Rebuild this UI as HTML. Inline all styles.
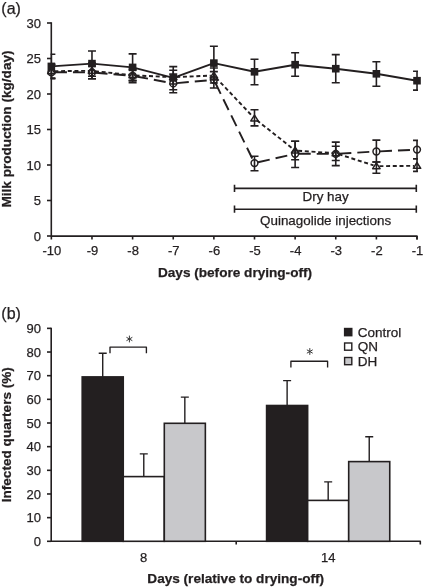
<!DOCTYPE html>
<html><head><meta charset="utf-8">
<style>
html,body{margin:0;padding:0;background:#fff;}
body{width:423px;height:587px;overflow:hidden;}
svg{display:block;will-change:transform;}
text{font-family:"Liberation Sans",sans-serif;fill:#231f20;stroke:#231f20;stroke-width:0.25px;}
</style></head><body>
<svg width="423" height="587" viewBox="0 0 423 587">
<rect width="423" height="587" fill="#fff"/>
<text x="1.3" y="14.0" font-size="16">(a)</text>
<path d="M51.3 22.2 V236.1 H417 V239.5" fill="none" stroke="#231f20" stroke-width="1.6" stroke-linejoin="round"/>
<line x1="47" y1="236.00" x2="51.3" y2="236.00" stroke="#231f20" stroke-width="1.6"/>
<text x="41" y="240.60" font-size="13" text-anchor="end">0</text>
<line x1="47" y1="200.50" x2="51.3" y2="200.50" stroke="#231f20" stroke-width="1.6"/>
<text x="41" y="205.10" font-size="13" text-anchor="end">5</text>
<line x1="47" y1="165.00" x2="51.3" y2="165.00" stroke="#231f20" stroke-width="1.6"/>
<text x="41" y="169.60" font-size="13" text-anchor="end">10</text>
<line x1="47" y1="129.50" x2="51.3" y2="129.50" stroke="#231f20" stroke-width="1.6"/>
<text x="41" y="134.10" font-size="13" text-anchor="end">15</text>
<line x1="47" y1="94.00" x2="51.3" y2="94.00" stroke="#231f20" stroke-width="1.6"/>
<text x="41" y="98.60" font-size="13" text-anchor="end">20</text>
<line x1="47" y1="58.50" x2="51.3" y2="58.50" stroke="#231f20" stroke-width="1.6"/>
<text x="41" y="63.10" font-size="13" text-anchor="end">25</text>
<line x1="47" y1="23.00" x2="51.3" y2="23.00" stroke="#231f20" stroke-width="1.6"/>
<text x="41" y="27.60" font-size="13" text-anchor="end">30</text>
<line x1="51.35" y1="236" x2="51.35" y2="239.5" stroke="#231f20" stroke-width="1.6"/>
<text x="51.85" y="255.3" font-size="13" text-anchor="middle">-10</text>
<line x1="91.98" y1="236" x2="91.98" y2="239.5" stroke="#231f20" stroke-width="1.6"/>
<text x="92.48" y="255.3" font-size="13" text-anchor="middle">-9</text>
<line x1="132.61" y1="236" x2="132.61" y2="239.5" stroke="#231f20" stroke-width="1.6"/>
<text x="133.11" y="255.3" font-size="13" text-anchor="middle">-8</text>
<line x1="173.24" y1="236" x2="173.24" y2="239.5" stroke="#231f20" stroke-width="1.6"/>
<text x="173.74" y="255.3" font-size="13" text-anchor="middle">-7</text>
<line x1="213.87" y1="236" x2="213.87" y2="239.5" stroke="#231f20" stroke-width="1.6"/>
<text x="214.37" y="255.3" font-size="13" text-anchor="middle">-6</text>
<line x1="254.50" y1="236" x2="254.50" y2="239.5" stroke="#231f20" stroke-width="1.6"/>
<text x="255.00" y="255.3" font-size="13" text-anchor="middle">-5</text>
<line x1="295.13" y1="236" x2="295.13" y2="239.5" stroke="#231f20" stroke-width="1.6"/>
<text x="295.63" y="255.3" font-size="13" text-anchor="middle">-4</text>
<line x1="335.76" y1="236" x2="335.76" y2="239.5" stroke="#231f20" stroke-width="1.6"/>
<text x="336.26" y="255.3" font-size="13" text-anchor="middle">-3</text>
<line x1="376.39" y1="236" x2="376.39" y2="239.5" stroke="#231f20" stroke-width="1.6"/>
<text x="376.89" y="255.3" font-size="13" text-anchor="middle">-2</text>
<line x1="417.02" y1="236" x2="417.02" y2="239.5" stroke="#231f20" stroke-width="1.6"/>
<text x="417.52" y="255.3" font-size="13" text-anchor="middle">-1</text>
<text x="235" y="277.2" font-size="13.6" font-weight="bold" text-anchor="middle">Days (before drying-off)</text>
<text transform="translate(11.1 129) rotate(-90)" font-size="13.6" font-weight="bold" text-anchor="middle">Milk production (kg/day)</text>
<path d="M234.5 184.8 V192.0 M234.5 188.4 H416.3 M416.3 184.8 V192.0" fill="none" stroke="#231f20" stroke-width="1.6"/>
<text x="325.6" y="201.3" font-size="13.4" text-anchor="middle">Dry hay</text>
<path d="M234.5 205.6 V212.79999999999998 M234.5 209.2 H416.3 M416.3 205.6 V212.79999999999998" fill="none" stroke="#231f20" stroke-width="1.6"/>
<text x="325.6" y="224.5" font-size="13.4" text-anchor="middle">Quinagolide injections</text>
<clipPath id="pc"><rect x="50.6" y="0" width="367.4" height="300"/></clipPath>
<g clip-path="url(#pc)">
<path d="M51.35 54.3 V78.5 M47.35 54.3 H55.35 M47.35 78.5 H55.35" fill="none" stroke="#231f20" stroke-width="1.6"/>
<path d="M51.35 64 V78.4 M47.35 64 H55.35 M47.35 78.4 H55.35" fill="none" stroke="#231f20" stroke-width="1.6"/>
<path d="M51.35 64.8 V78.4 M47.35 64.8 H55.35 M47.35 78.4 H55.35" fill="none" stroke="#231f20" stroke-width="1.6"/>
<path d="M91.98 51 V76.2 M87.98 51 H95.98 M87.98 76.2 H95.98" fill="none" stroke="#231f20" stroke-width="1.6"/>
<path d="M91.98 63 V78.8 M87.98 63 H95.98 M87.98 78.8 H95.98" fill="none" stroke="#231f20" stroke-width="1.6"/>
<path d="M91.98 66 V78.8 M87.98 66 H95.98 M87.98 78.8 H95.98" fill="none" stroke="#231f20" stroke-width="1.6"/>
<path d="M132.61 53.9 V80.9 M128.61 53.9 H136.61 M128.61 80.9 H136.61" fill="none" stroke="#231f20" stroke-width="1.6"/>
<path d="M132.61 70 V80.3 M128.61 70 H136.61 M128.61 80.3 H136.61" fill="none" stroke="#231f20" stroke-width="1.6"/>
<path d="M132.61 69 V82.6 M128.61 69 H136.61 M128.61 82.6 H136.61" fill="none" stroke="#231f20" stroke-width="1.6"/>
<path d="M173.24 66.6 V89.8 M169.24 66.6 H177.24 M169.24 89.8 H177.24" fill="none" stroke="#231f20" stroke-width="1.6"/>
<path d="M173.24 70.3 V84 M169.24 70.3 H177.24 M169.24 84 H177.24" fill="none" stroke="#231f20" stroke-width="1.6"/>
<path d="M173.24 74 V92.7 M169.24 74 H177.24 M169.24 92.7 H177.24" fill="none" stroke="#231f20" stroke-width="1.6"/>
<path d="M213.87 46.3 V79.9 M209.87 46.3 H217.87 M209.87 79.9 H217.87" fill="none" stroke="#231f20" stroke-width="1.6"/>
<path d="M213.87 68 V83 M209.87 68 H217.87 M209.87 83 H217.87" fill="none" stroke="#231f20" stroke-width="1.6"/>
<path d="M213.87 71.6 V88 M209.87 71.6 H217.87 M209.87 88 H217.87" fill="none" stroke="#231f20" stroke-width="1.6"/>
<path d="M254.50 59.2 V84.75 M250.50 59.2 H258.50 M250.50 84.75 H258.50" fill="none" stroke="#231f20" stroke-width="1.6"/>
<path d="M254.50 109.8 V125.9 M250.50 109.8 H258.50 M250.50 125.9 H258.50" fill="none" stroke="#231f20" stroke-width="1.6"/>
<path d="M254.50 156.2 V170.7 M250.50 156.2 H258.50 M250.50 170.7 H258.50" fill="none" stroke="#231f20" stroke-width="1.6"/>
<path d="M295.13 52.7 V76.2 M291.13 52.7 H299.13 M291.13 76.2 H299.13" fill="none" stroke="#231f20" stroke-width="1.6"/>
<path d="M295.13 141.2 V159.8 M291.13 141.2 H299.13 M291.13 159.8 H299.13" fill="none" stroke="#231f20" stroke-width="1.6"/>
<path d="M295.13 141.2 V167.5 M291.13 141.2 H299.13 M291.13 167.5 H299.13" fill="none" stroke="#231f20" stroke-width="1.6"/>
<path d="M335.76 54.6 V82.8 M331.76 54.6 H339.76 M331.76 82.8 H339.76" fill="none" stroke="#231f20" stroke-width="1.6"/>
<path d="M335.76 146.2 V160.5 M331.76 146.2 H339.76 M331.76 160.5 H339.76" fill="none" stroke="#231f20" stroke-width="1.6"/>
<path d="M335.76 142.1 V165.6 M331.76 142.1 H339.76 M331.76 165.6 H339.76" fill="none" stroke="#231f20" stroke-width="1.6"/>
<path d="M376.39 61.7 V86.2 M372.39 61.7 H380.39 M372.39 86.2 H380.39" fill="none" stroke="#231f20" stroke-width="1.6"/>
<path d="M376.39 162 V173.3 M372.39 162 H380.39 M372.39 173.3 H380.39" fill="none" stroke="#231f20" stroke-width="1.6"/>
<path d="M376.39 140.1 V162 M372.39 140.1 H380.39 M372.39 162 H380.39" fill="none" stroke="#231f20" stroke-width="1.6"/>
<path d="M417.02 71.3 V90.1 M413.02 71.3 H421.02 M413.02 90.1 H421.02" fill="none" stroke="#231f20" stroke-width="1.6"/>
<path d="M417.02 158.8 V171.4 M413.02 158.8 H421.02 M413.02 171.4 H421.02" fill="none" stroke="#231f20" stroke-width="1.6"/>
<path d="M417.02 140.4 V158.8 M413.02 140.4 H421.02 M413.02 158.8 H421.02" fill="none" stroke="#231f20" stroke-width="1.6"/>
</g>
<line x1="54.95" y1="72.22" x2="88.38" y2="72.38" stroke="#231f20" stroke-width="1.9" stroke-dasharray="12 6"/>
<line x1="95.57" y1="72.70" x2="129.02" y2="75.50" stroke="#231f20" stroke-width="1.9" stroke-dasharray="12 6"/>
<line x1="136.15" y1="76.46" x2="169.70" y2="82.74" stroke="#231f20" stroke-width="1.9" stroke-dasharray="12 6"/>
<line x1="176.83" y1="83.08" x2="210.28" y2="80.12" stroke="#231f20" stroke-width="1.9" stroke-dasharray="12 6"/>
<line x1="215.45" y1="83.04" x2="252.92" y2="159.86" stroke="#231f20" stroke-width="1.9" stroke-dasharray="12 6"/>
<line x1="258.01" y1="162.30" x2="291.62" y2="154.60" stroke="#231f20" stroke-width="1.9" stroke-dasharray="12 6"/>
<line x1="298.73" y1="153.80" x2="332.16" y2="153.85" stroke="#231f20" stroke-width="1.9" stroke-dasharray="12 6"/>
<line x1="339.35" y1="153.64" x2="372.80" y2="151.71" stroke="#231f20" stroke-width="1.9" stroke-dasharray="12 6"/>
<line x1="379.99" y1="151.33" x2="413.42" y2="149.77" stroke="#231f20" stroke-width="1.9" stroke-dasharray="12 6"/>
<line x1="54.35" y1="71.17" x2="88.98" y2="70.83" stroke="#231f20" stroke-width="1.9" stroke-dasharray="4 2.7"/>
<line x1="94.96" y1="71.13" x2="129.63" y2="74.97" stroke="#231f20" stroke-width="1.9" stroke-dasharray="4 2.7"/>
<line x1="135.61" y1="75.44" x2="170.24" y2="77.06" stroke="#231f20" stroke-width="1.9" stroke-dasharray="4 2.7"/>
<line x1="176.24" y1="77.07" x2="210.87" y2="75.63" stroke="#231f20" stroke-width="1.9" stroke-dasharray="4 2.7"/>
<line x1="215.93" y1="77.68" x2="252.44" y2="116.22" stroke="#231f20" stroke-width="1.9" stroke-dasharray="4 2.7"/>
<line x1="256.85" y1="120.26" x2="292.78" y2="148.64" stroke="#231f20" stroke-width="1.9" stroke-dasharray="4 2.7"/>
<line x1="298.12" y1="150.71" x2="332.77" y2="153.09" stroke="#231f20" stroke-width="1.9" stroke-dasharray="4 2.7"/>
<line x1="338.62" y1="154.21" x2="373.53" y2="165.29" stroke="#231f20" stroke-width="1.9" stroke-dasharray="4 2.7"/>
<line x1="379.39" y1="166.17" x2="414.02" y2="165.83" stroke="#231f20" stroke-width="1.9" stroke-dasharray="4 2.7"/>
<line x1="51.35" y1="66.40" x2="91.98" y2="63.60" stroke="#231f20" stroke-width="1.9"/>
<line x1="91.98" y1="63.60" x2="132.61" y2="67.40" stroke="#231f20" stroke-width="1.9"/>
<line x1="132.61" y1="67.40" x2="173.24" y2="77.90" stroke="#231f20" stroke-width="1.9"/>
<line x1="173.24" y1="77.90" x2="213.87" y2="63.10" stroke="#231f20" stroke-width="1.9"/>
<line x1="213.87" y1="63.10" x2="254.50" y2="71.80" stroke="#231f20" stroke-width="1.9"/>
<line x1="254.50" y1="71.80" x2="295.13" y2="64.70" stroke="#231f20" stroke-width="1.9"/>
<line x1="295.13" y1="64.70" x2="335.76" y2="68.70" stroke="#231f20" stroke-width="1.9"/>
<line x1="335.76" y1="68.70" x2="376.39" y2="73.80" stroke="#231f20" stroke-width="1.9"/>
<line x1="376.39" y1="73.80" x2="417.02" y2="80.70" stroke="#231f20" stroke-width="1.9"/>
<circle cx="51.35" cy="72.2" r="3.4" fill="none" stroke="#231f20" stroke-width="1.5"/>
<path d="M51.35 67.90 L55.05 73.70 L47.65 73.70 Z" fill="none" stroke="#231f20" stroke-width="1.5" stroke-linejoin="round"/>
<circle cx="91.98" cy="72.4" r="3.4" fill="none" stroke="#231f20" stroke-width="1.5"/>
<path d="M91.98 67.50 L95.68 73.30 L88.28 73.30 Z" fill="none" stroke="#231f20" stroke-width="1.5" stroke-linejoin="round"/>
<circle cx="132.61" cy="75.8" r="3.4" fill="none" stroke="#231f20" stroke-width="1.5"/>
<path d="M132.61 72.00 L136.31 77.80 L128.91 77.80 Z" fill="none" stroke="#231f20" stroke-width="1.5" stroke-linejoin="round"/>
<circle cx="173.24" cy="83.4" r="3.4" fill="none" stroke="#231f20" stroke-width="1.5"/>
<path d="M173.24 73.90 L176.94 79.70 L169.54 79.70 Z" fill="none" stroke="#231f20" stroke-width="1.5" stroke-linejoin="round"/>
<circle cx="213.87" cy="79.8" r="3.4" fill="none" stroke="#231f20" stroke-width="1.5"/>
<path d="M213.87 72.20 L217.57 78.00 L210.17 78.00 Z" fill="none" stroke="#231f20" stroke-width="1.5" stroke-linejoin="round"/>
<circle cx="254.50" cy="163.1" r="3.4" fill="none" stroke="#231f20" stroke-width="1.5"/>
<path d="M254.50 115.10 L258.20 120.90 L250.80 120.90 Z" fill="none" stroke="#231f20" stroke-width="1.5" stroke-linejoin="round"/>
<circle cx="295.13" cy="153.8" r="3.4" fill="none" stroke="#231f20" stroke-width="1.5"/>
<path d="M295.13 147.20 L298.83 153.00 L291.43 153.00 Z" fill="none" stroke="#231f20" stroke-width="1.5" stroke-linejoin="round"/>
<circle cx="335.76" cy="153.85" r="3.4" fill="none" stroke="#231f20" stroke-width="1.5"/>
<path d="M335.76 150.00 L339.46 155.80 L332.06 155.80 Z" fill="none" stroke="#231f20" stroke-width="1.5" stroke-linejoin="round"/>
<circle cx="376.39" cy="151.5" r="3.4" fill="none" stroke="#231f20" stroke-width="1.5"/>
<path d="M376.39 162.90 L380.09 168.70 L372.69 168.70 Z" fill="none" stroke="#231f20" stroke-width="1.5" stroke-linejoin="round"/>
<circle cx="417.02" cy="149.6" r="3.4" fill="none" stroke="#231f20" stroke-width="1.5"/>
<path d="M417.02 162.50 L420.72 168.30 L413.32 168.30 Z" fill="none" stroke="#231f20" stroke-width="1.5" stroke-linejoin="round"/>
<rect x="47.55" y="62.60" width="7.6" height="7.6" fill="#231f20"/>
<rect x="88.18" y="59.80" width="7.6" height="7.6" fill="#231f20"/>
<rect x="128.81" y="63.60" width="7.6" height="7.6" fill="#231f20"/>
<rect x="169.44" y="74.10" width="7.6" height="7.6" fill="#231f20"/>
<rect x="210.07" y="59.30" width="7.6" height="7.6" fill="#231f20"/>
<rect x="250.70" y="68.00" width="7.6" height="7.6" fill="#231f20"/>
<rect x="291.33" y="60.90" width="7.6" height="7.6" fill="#231f20"/>
<rect x="331.96" y="64.90" width="7.6" height="7.6" fill="#231f20"/>
<rect x="372.59" y="70.00" width="7.6" height="7.6" fill="#231f20"/>
<rect x="413.22" y="76.90" width="7.6" height="7.6" fill="#231f20"/>
<text x="1.3" y="319.0" font-size="16">(b)</text>
<path d="M51.2 327.76 V541.3 H420.3 V544.6" fill="none" stroke="#231f20" stroke-width="1.6" stroke-linejoin="round"/>
<line x1="47" y1="541.30" x2="51.2" y2="541.30" stroke="#231f20" stroke-width="1.6"/>
<text x="41" y="545.90" font-size="13" text-anchor="end">0</text>
<line x1="47" y1="517.64" x2="51.2" y2="517.64" stroke="#231f20" stroke-width="1.6"/>
<text x="41" y="522.24" font-size="13" text-anchor="end">10</text>
<line x1="47" y1="493.98" x2="51.2" y2="493.98" stroke="#231f20" stroke-width="1.6"/>
<text x="41" y="498.58" font-size="13" text-anchor="end">20</text>
<line x1="47" y1="470.32" x2="51.2" y2="470.32" stroke="#231f20" stroke-width="1.6"/>
<text x="41" y="474.92" font-size="13" text-anchor="end">30</text>
<line x1="47" y1="446.66" x2="51.2" y2="446.66" stroke="#231f20" stroke-width="1.6"/>
<text x="41" y="451.26" font-size="13" text-anchor="end">40</text>
<line x1="47" y1="423.00" x2="51.2" y2="423.00" stroke="#231f20" stroke-width="1.6"/>
<text x="41" y="427.60" font-size="13" text-anchor="end">50</text>
<line x1="47" y1="399.34" x2="51.2" y2="399.34" stroke="#231f20" stroke-width="1.6"/>
<text x="41" y="403.94" font-size="13" text-anchor="end">60</text>
<line x1="47" y1="375.68" x2="51.2" y2="375.68" stroke="#231f20" stroke-width="1.6"/>
<text x="41" y="380.28" font-size="13" text-anchor="end">70</text>
<line x1="47" y1="352.02" x2="51.2" y2="352.02" stroke="#231f20" stroke-width="1.6"/>
<text x="41" y="356.62" font-size="13" text-anchor="end">80</text>
<line x1="47" y1="328.36" x2="51.2" y2="328.36" stroke="#231f20" stroke-width="1.6"/>
<text x="41" y="332.96" font-size="13" text-anchor="end">90</text>
<line x1="236.2" y1="541.3" x2="236.2" y2="544.6" stroke="#231f20" stroke-width="1.6"/>
<text x="143.6" y="562.2" font-size="13" text-anchor="middle">8</text>
<text x="328.3" y="562.2" font-size="13" text-anchor="middle">14</text>
<text x="235.7" y="583" font-size="13.6" font-weight="bold" text-anchor="middle">Days (relative to drying-off)</text>
<text transform="translate(11.0 434.7) rotate(-90)" font-size="13.6" font-weight="bold" text-anchor="middle">Infected quarters (%)</text>
<path d="M102.72 376.90 V353.30 M98.72 353.30 H106.72" fill="none" stroke="#231f20" stroke-width="1.4"/>
<path d="M143.78 476.60 V453.90 M139.78 453.90 H147.78" fill="none" stroke="#231f20" stroke-width="1.4"/>
<path d="M184.83 423.30 V397.10 M180.83 397.10 H188.83" fill="none" stroke="#231f20" stroke-width="1.4"/>
<rect x="82.20" y="376.90" width="41.05" height="164.40" fill="#231f20" stroke="#231f20" stroke-width="1.6"/>
<rect x="123.25" y="476.60" width="41.05" height="64.70" fill="#fff" stroke="#231f20" stroke-width="1.6"/>
<rect x="164.30" y="423.30" width="41.05" height="118.00" fill="#c8c8cb" stroke="#231f20" stroke-width="1.6"/>
<path d="M287.12 405.50 V380.60 M283.12 380.60 H291.12" fill="none" stroke="#231f20" stroke-width="1.4"/>
<path d="M328.18 500.40 V481.90 M324.18 481.90 H332.18" fill="none" stroke="#231f20" stroke-width="1.4"/>
<path d="M369.23 461.60 V436.70 M365.23 436.70 H373.23" fill="none" stroke="#231f20" stroke-width="1.4"/>
<rect x="266.60" y="405.50" width="41.05" height="135.80" fill="#231f20" stroke="#231f20" stroke-width="1.6"/>
<rect x="307.65" y="500.40" width="41.05" height="40.90" fill="#fff" stroke="#231f20" stroke-width="1.6"/>
<rect x="348.70" y="461.60" width="41.05" height="79.70" fill="#c8c8cb" stroke="#231f20" stroke-width="1.6"/>
<path d="M110.0 353.30 V347.1 H146.4 V353.30" fill="none" stroke="#231f20" stroke-width="1.35" stroke-linejoin="round"/>
<path d="M129.40 336.00 L129.40 342.00 M126.80 337.50 L132.00 340.50 M132.00 337.50 L126.80 340.50" stroke="#3a3a3a" stroke-width="1.0" stroke-linecap="round"/>
<path d="M290.9 367.40 V361.2 H327.6 V367.40" fill="none" stroke="#231f20" stroke-width="1.35" stroke-linejoin="round"/>
<path d="M309.80 348.50 L309.80 354.50 M307.20 350.00 L312.40 353.00 M312.40 350.00 L307.20 353.00" stroke="#3a3a3a" stroke-width="1.0" stroke-linecap="round"/>
<rect x="344.6" y="328.50" width="7.2" height="7.2" fill="#231f20" stroke="#231f20" stroke-width="1.4"/>
<text x="357.8" y="336.60" font-size="13.5">Control</text>
<rect x="344.6" y="343.00" width="7.2" height="7.2" fill="#fff" stroke="#231f20" stroke-width="1.4"/>
<text x="357.8" y="351.10" font-size="13.5">QN</text>
<rect x="344.6" y="357.50" width="7.2" height="7.2" fill="#c8c8cb" stroke="#231f20" stroke-width="1.4"/>
<text x="357.8" y="365.60" font-size="13.5">DH</text>
</svg>
</body></html>
